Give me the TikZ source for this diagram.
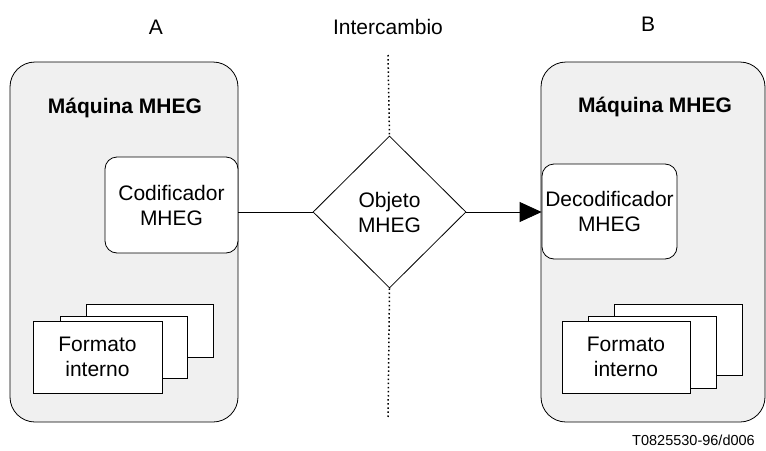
\documentclass[tikz,border=0pt]{standalone}
\usepackage{fontspec}
\setmainfont{Liberation Sans}
\usetikzlibrary{shapes.geometric,arrows.meta}
\definecolor{machinegray}{RGB}{240,240,240}
\begin{document}
\begin{tikzpicture}[x=1pt, y=1pt,
  machine/.style={shape=rectangle, draw=black, fill=machinegray, line width=0.8pt, rounded corners=25pt},
  coder/.style={shape=rectangle, draw=black, fill=white, line width=0.8pt, rounded corners=12pt, align=center, inner sep=1pt, font=\fontsize{21}{25}\selectfont},
  sheet/.style={shape=rectangle, draw=black, fill=white, line width=0.8pt, align=center, font=\fontsize{21}{25}\selectfont},
  heading/.style={font=\bfseries\fontsize{21}{25}\selectfont},
  plain/.style={font=\fontsize{21}{25}\selectfont, align=center},
  wire/.style={draw=black, line width=0.8pt},
  dots/.style={draw=black, line width=1.5pt, dash pattern=on 1.5pt off 2.6pt}]
\useasboundingbox (0,0) rectangle (766,-450);
\node[plain] (la) at (156,-27) {A};
\node[plain] (lx) at (388,-27) {Intercambio};
\node[plain] (lb) at (648,-24) {B};
\node[machine, minimum width=228pt, minimum height=360pt] (A) at (124,-242) {};
\node[machine, minimum width=224pt, minimum height=360pt] (B) at (653,-242) {};
\node[heading] (tA) at (125,-108) {Máquina MHEG};
\node[heading] (tB) at (655,-107) {Máquina MHEG};
\node[coder, minimum width=133pt, minimum height=96pt] (cod) at (171.5,-205) {Codificador\\MHEG};
\node[coder, minimum width=135pt, minimum height=95pt] (dec) at (609.5,-211.5) {Decodificador\\MHEG};
\node[sheet, minimum width=127pt, minimum height=53pt] (a3) at (149.5,-330.5) {};
\node[sheet, minimum width=127pt, minimum height=62pt] (a2) at (123.5,-347) {};
\node[sheet, minimum width=129pt, minimum height=72pt] (a1) at (97.5,-357) {Formato\\interno};
\node[sheet, minimum width=128pt, minimum height=71pt] (b3) at (678,-339.5) {};
\node[sheet, minimum width=128pt, minimum height=72pt] (b2) at (652,-352) {};
\node[sheet, minimum width=128pt, minimum height=72pt] (b1) at (626,-357) {Formato\\interno};
\node[shape=diamond, draw=black, fill=white, line width=0.8pt, minimum width=153pt, minimum height=152pt, inner sep=0pt, align=center, font=\fontsize{21}{25}\selectfont] (obj) at (389.5,-212) {Objeto\\MHEG};
\coordinate (top) at (388,-55);
\coordinate (bot) at (388,-418);
\draw [dots] (top) -- (obj.north);
\draw [dots] (obj.south) -- (bot);
\draw [wire] (cod.east |- obj.west) -- (obj.west);
\draw [-{Triangle[length=22pt,width=20pt]}, wire] (obj.east) -- (dec.west |- obj.east);
\node[font=\fontsize{14.5}{17}\selectfont] (id) at (693.5,-440) {T0825530-96/d006};
\end{tikzpicture}
\end{document}
